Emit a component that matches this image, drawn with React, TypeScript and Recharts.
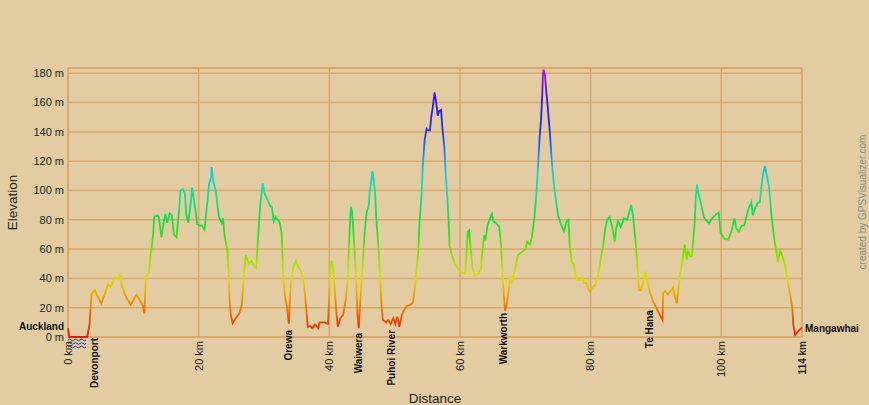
import React from 'react'
import {
  LineChart,
  Line,
  XAxis,
  YAxis,
  CartesianGrid,
  ReferenceArea,
  ReferenceDot,
  Label,
} from 'recharts'

// distance along the route (km) and elevation (m)
const KM = [
  0, 0.2, 2.95, 3.3, 3.6, 4.1, 4.6, 5.1, 5.65, 6.1, 6.5, 7.2, 7.5, 7.9, 8.3, 8.9, 9.6, 10.5, 11.0, 11.4,
  11.7, 11.9, 12.4, 12.6, 13.0, 13.2, 13.7, 13.9, 14.3, 14.6, 14.9, 15.2, 15.55, 15.9, 16.2, 16.6, 17.0, 17.2, 17.6, 17.9,
  18.1, 18.4, 18.8, 19.0, 19.3, 19.8, 20.2, 20.5, 20.9, 21.3, 21.6, 21.9, 22.0, 22.2, 22.6, 23.1, 23.5, 23.7, 24.0, 24.4,
  24.6, 24.7, 24.9, 25.2, 25.6, 26.2, 26.6, 26.8, 27.2, 27.7, 28.1, 28.5, 28.8, 29.1, 29.4, 29.8, 30.1, 30.6, 31.0, 31.2,
  31.5, 31.8, 32.4, 32.7, 32.9, 33.2, 33.5, 33.8, 34.1, 34.5, 34.9, 35.2, 35.7, 36.1, 36.5, 36.7, 37.1, 37.4, 37.8, 38.3,
  38.5, 39.3, 39.8, 40.0, 40.2, 40.4, 40.6, 40.8, 41.1, 41.3, 41.7, 42.1, 42.5, 42.8, 43.0, 43.3, 43.5, 43.7, 44.1, 44.3,
  44.5, 44.7, 44.8, 45.1, 45.4, 45.7, 46.0, 46.2, 46.5, 46.6, 46.8, 47.0, 47.2, 47.5, 47.8, 48.0, 48.2, 48.7, 49.0, 49.4,
  49.8, 50.1, 50.4, 50.7, 51.1, 51.4, 51.8, 52.6, 52.8, 53.1, 53.3, 53.6, 53.8, 54.1, 54.3, 54.6, 54.9, 55.1, 55.4, 55.6,
  55.9, 56.1, 56.3, 56.6, 56.8, 57.1, 57.3, 57.6, 57.8, 58.1, 58.3, 58.4, 58.8, 59.2, 59.6, 60.1, 60.8, 61.0, 61.2, 61.4,
  61.6, 61.9, 62.2, 62.8, 63.2, 63.4, 63.7, 63.9, 64.2, 64.6, 64.9, 65.1, 65.6, 66.0, 66.3, 66.5, 66.7, 66.9, 67.1, 67.4,
  67.7, 67.9, 68.4, 68.9, 69.5, 70.0, 70.3, 70.7, 71.0, 71.4, 71.7, 72.0, 72.2, 72.4, 72.6, 72.7, 72.8, 73.0, 73.2, 73.4,
  73.6, 73.8, 74.0, 74.3, 74.6, 75.0, 75.4, 75.9, 76.3, 76.6, 76.8, 77.1, 77.4, 77.6, 78.0, 78.5, 78.7, 79.0, 79.4, 79.6,
  79.9, 80.1, 80.7, 81.1, 81.6, 81.9, 82.2, 82.5, 82.9, 83.3, 83.7, 83.9, 84.2, 84.6, 85.1, 85.6, 86.2, 86.5, 86.9, 87.2,
  87.4, 87.7, 88.0, 88.4, 88.7, 89.1, 89.6, 90.1, 90.6, 91.0, 91.1, 91.4, 91.8, 92.4, 92.6, 92.9, 93.2, 93.5, 93.8, 94.2,
  94.4, 94.7, 94.9, 95.2, 95.5, 95.9, 96.1, 96.3, 96.5, 96.9, 97.3, 97.6, 98.1, 98.6, 99.3, 99.6, 99.9, 100.5, 101.1, 101.6,
  102.0, 102.3, 102.7, 103.1, 103.5, 103.9, 104.2, 104.6, 104.8, 105.2, 105.6, 105.9, 106.2, 106.4, 106.7, 106.9, 107.3, 107.7, 108.1, 108.5,
  108.7, 109.0, 109.3, 109.7, 110.0, 110.3, 110.6, 110.9, 111.0, 111.3, 111.8, 112.35,
]
const ELEV = [
  6, 0, 0, 9, 29.5, 32, 27, 23, 29.5, 36, 34, 41, 40, 42, 34, 27, 22, 29, 25, 22,
  16, 41, 44, 54.5, 68, 82, 83, 82, 68, 77, 84, 78, 84.5, 83, 70, 68, 86, 100, 101, 98,
  84, 78, 92, 102, 93, 77, 76, 76, 73, 91, 104.5, 109, 116, 107, 100, 82, 78, 81, 68, 59,
  43, 27, 16, 9.5, 12.5, 16, 21.6, 35, 56, 50, 52, 48, 47, 68, 89, 105, 98, 93, 89, 89,
  79, 82, 78, 71, 46, 27.5, 21, 9, 37, 48, 52, 48, 44.5, 37, 18, 7, 7.5, 6, 8.6, 6,
  10, 10, 9, 30, 48, 52, 46, 34, 16, 7, 13, 15, 25, 39, 62, 89, 85, 71, 39, 16,
  6, 20.7, 30, 48, 71, 85, 89, 99, 109, 113, 107, 98, 80, 62, 39, 20.7, 11.6, 10, 11.6, 9,
  13, 9, 14, 7, 15, 18, 21, 22.5, 24, 34, 43, 57, 77.5, 96, 116, 135, 142, 141, 141, 150,
  159, 167, 162, 151, 154, 155, 143, 130, 112, 93, 75, 62, 55, 50, 47, 44.5, 43, 57, 72, 73,
  62, 48, 42, 43, 46, 57, 69.5, 66, 76, 81, 84, 79, 77.5, 75, 62, 43, 30, 18, 21, 30,
  41, 38, 46, 56, 58, 60, 65, 63, 68, 82, 98, 121, 137, 148, 166, 180, 182.5, 179, 168, 159,
  148, 137, 123, 107, 96, 83, 77.5, 72, 79, 80, 62, 51, 50, 43, 39, 39, 41, 37, 37, 33,
  31, 33, 35.5, 41, 55, 62, 73, 80, 82, 75, 65, 74, 79, 75, 81, 80, 90, 82, 64, 46,
  32, 32, 36.6, 44.5, 38, 30, 24, 19.5, 15, 11.6, 30, 31.6, 29, 32.5, 34, 27.5, 23, 35.5, 45.7, 57,
  63, 52.5, 59, 55, 55, 77.5, 96, 104, 98, 91, 82, 80, 77.5, 81, 84, 85, 71, 67, 66.6, 73,
  81, 74, 72, 76, 76, 83, 88, 92, 83, 88, 91.6, 92, 105, 111.6, 116.6, 111.6, 102.5, 82, 67, 56,
  51, 59, 56, 50, 43, 34, 27.5, 18, 9, 1.5, 4, 6.6,
]

const END_KM = 112.35
const END_LABEL = '114 km'
const Y_TOP = 183.6
const DIST_TICKS = [0, 20, 40, 60, 80, 100, END_KM]
const ELEV_TICKS = [0, 20, 40, 60, 80, 100, 120, 140, 160, 180]

// waypoints drawn under the profile (label top given as an elevation)
const PLACE_NAMES = ['Devonport', 'Orewa', 'Waiwera', 'Puhoi River', 'Warkworth', 'Te Hana']
const PLACE_KM = [4.0, 33.8, 44.5, 49.5, 66.7, 89.0]
const PLACE_TOP_M = [-0.7, 4.8, 2.7, 4.8, 16.4, 18.4]

const START_NAME = 'Auckland'
const END_NAME = 'Mangawhai'
const WATER_KM = [0, 3.0]

// hue ramp by elevation
const COLOR_STOPS: [number, string][] = [
  [0, '#f01800'],
  [10, '#f04400'],
  [20, '#f07800'],
  [30, '#e8aa00'],
  [40, '#dcdc00'],
  [50, '#ace000'],
  [60, '#6ce000'],
  [70, '#30e020'],
  [80, '#10e044'],
  [90, '#10e070'],
  [100, '#10e0a4'],
  [110, '#10d4d4'],
  [120, '#10acec'],
  [130, '#1070ec'],
  [140, '#1834e8'],
  [160, '#2c18e4'],
  [170, '#6414e4'],
  [182, '#b414e4'],
]

const BG = '#E3CCA1'
const GRID = '#D6A96C'
const FONT = 'Arial, "Liberation Sans", sans-serif'

const profile = KM.map((km, i) => ({ km, m: ELEV[i] }))
const maxM = Math.max(...ELEV)

const DistTick = ({ x, y, payload }: any) => {
  const last = payload.value === END_KM
  return (
    <text
      x={x}
      y={y}
      transform={`rotate(-90, ${x}, ${y})`}
      textAnchor="end"
      dy="0.35em"
      fontSize={last ? 10 : 11}
      fontWeight={last ? 'bold' : 'normal'}
      fill="#1e1e1e"
      fontFamily={FONT}
    >
      {last ? END_LABEL : `${payload.value} km`}
    </text>
  )
}

const Waves = ({ x, y, width, height }: any) => {
  const base = y + height
  const n = Math.floor(width / 3)
  return (
    <g fill="none" stroke="#3434a8" strokeWidth={1}>
      {[3, 6.5, 10].map((off) => {
        let d = `M${x},${base + off} q1.5,-1.6 3,0`
        for (let i = 1; i < n; i++) d += ' t3,0'
        return <path key={off} d={d} />
      })}
    </g>
  )
}

export default function App() {
  return (
    <div style={{ position: 'absolute', left: 0, top: 0, width: 869, height: 405, background: BG }}>
      <LineChart
        width={869}
        height={405}
        data={profile}
        margin={{ top: 68, right: 67, bottom: 0, left: 0 }}
      >
        <defs>
          <linearGradient id="elevGrad" x1="0" y1="0" x2="0" y2="1">
            {COLOR_STOPS.slice()
              .reverse()
              .map(([m, c]) => (
                <stop key={m} offset={Math.min(1, Math.max(0, (maxM - m) / maxM))} stopColor={c} />
              ))}
          </linearGradient>
        </defs>
        <CartesianGrid stroke={GRID} strokeWidth={1.5} />
        <ReferenceArea
          x1={0}
          x2={END_KM}
          y1={0}
          y2={Y_TOP}
          fill="none"
          stroke={GRID}
          strokeWidth={1.5}
          fillOpacity={0}
        />
        <XAxis
          type="number"
          dataKey="km"
          domain={[0, END_KM]}
          ticks={DIST_TICKS}
          height={68}
          axisLine={false}
          tickLine={false}
          tickSize={0}
          tickMargin={4}
          tick={<DistTick />}
          interval={0}
        >
          <Label
            content={(p: any) => {
              const vb = p.viewBox
              return (
                <text
                  x={vb.x + vb.width / 2}
                  y={vb.y + vb.height - 2}
                  textAnchor="middle"
                  fontSize={13.5}
                  fill="#1e1e1e"
                  fontFamily={FONT}
                >
                  Distance
                </text>
              )
            }}
          />
        </XAxis>
        <YAxis
          type="number"
          domain={[0, Y_TOP]}
          ticks={ELEV_TICKS}
          width={68}
          axisLine={false}
          tickLine={false}
          tickSize={0}
          tickMargin={4}
          tickFormatter={(v) => `${v} m`}
          tick={{ fontSize: 11, fill: '#1e1e1e', fontFamily: FONT }}
          interval={0}
        >
          <Label
            content={(p: any) => {
              const vb = p.viewBox
              const cx = vb.x + 12
              const cy = vb.y + vb.height / 2
              return (
                <text
                  x={cx}
                  y={cy}
                  transform={`rotate(-90, ${cx}, ${cy})`}
                  textAnchor="middle"
                  dy="0.35em"
                  fontSize={13.5}
                  fill="#1e1e1e"
                  fontFamily={FONT}
                >
                  Elevation
                </text>
              )
            }}
          />
        </YAxis>
        <ReferenceArea
          x1={WATER_KM[0]}
          x2={WATER_KM[1]}
          y1={0}
          y2={Y_TOP}
          ifOverflow="visible"
          shape={<Waves />}
        />
        <Line
          type="linear"
          dataKey="m"
          stroke="url(#elevGrad)"
          strokeWidth={1.8}
          dot={false}
          activeDot={false}
          isAnimationActive={false}
        />
        {PLACE_NAMES.map((name, i) => (
          <ReferenceDot
            key={name}
            x={PLACE_KM[i]}
            y={PLACE_TOP_M[i]}
            r={0}
            ifOverflow="visible"
            shape={(p: any) => (
              <text
                x={p.cx}
                y={p.cy}
                transform={`rotate(-90, ${p.cx}, ${p.cy})`}
                textAnchor="end"
                dy="0.35em"
                fontSize={10}
                fontWeight="bold"
                fill="#111"
                fontFamily={FONT}
              >
                {name}
              </text>
            )}
          />
        ))}
        <ReferenceDot
          x={0}
          y={7.5}
          r={0}
          ifOverflow="visible"
          shape={(p: any) => (
            <text x={p.cx - 4} y={p.cy} textAnchor="end" dy="0.35em" fontSize={10} fontWeight="bold" fill="#111" fontFamily={FONT}>
              {START_NAME}
            </text>
          )}
        />
        <ReferenceDot
          x={END_KM}
          y={5.9}
          r={0}
          ifOverflow="visible"
          shape={(p: any) => (
            <text x={p.cx + 3} y={p.cy} textAnchor="start" dy="0.35em" fontSize={10} fontWeight="bold" fill="#111" fontFamily={FONT}>
              {END_NAME}
            </text>
          )}
        />
      </LineChart>
      <div
        style={{
          position: 'absolute',
          left: 763,
          top: 195,
          width: 200,
          height: 14,
          lineHeight: '14px',
          textAlign: 'center',
          transform: 'rotate(-90deg)',
          fontSize: 10,
          color: '#8a8a8a',
          fontFamily: FONT,
          whiteSpace: 'nowrap',
        }}
      >
        created by GPSVisualizer.com
      </div>
    </div>
  )
}
